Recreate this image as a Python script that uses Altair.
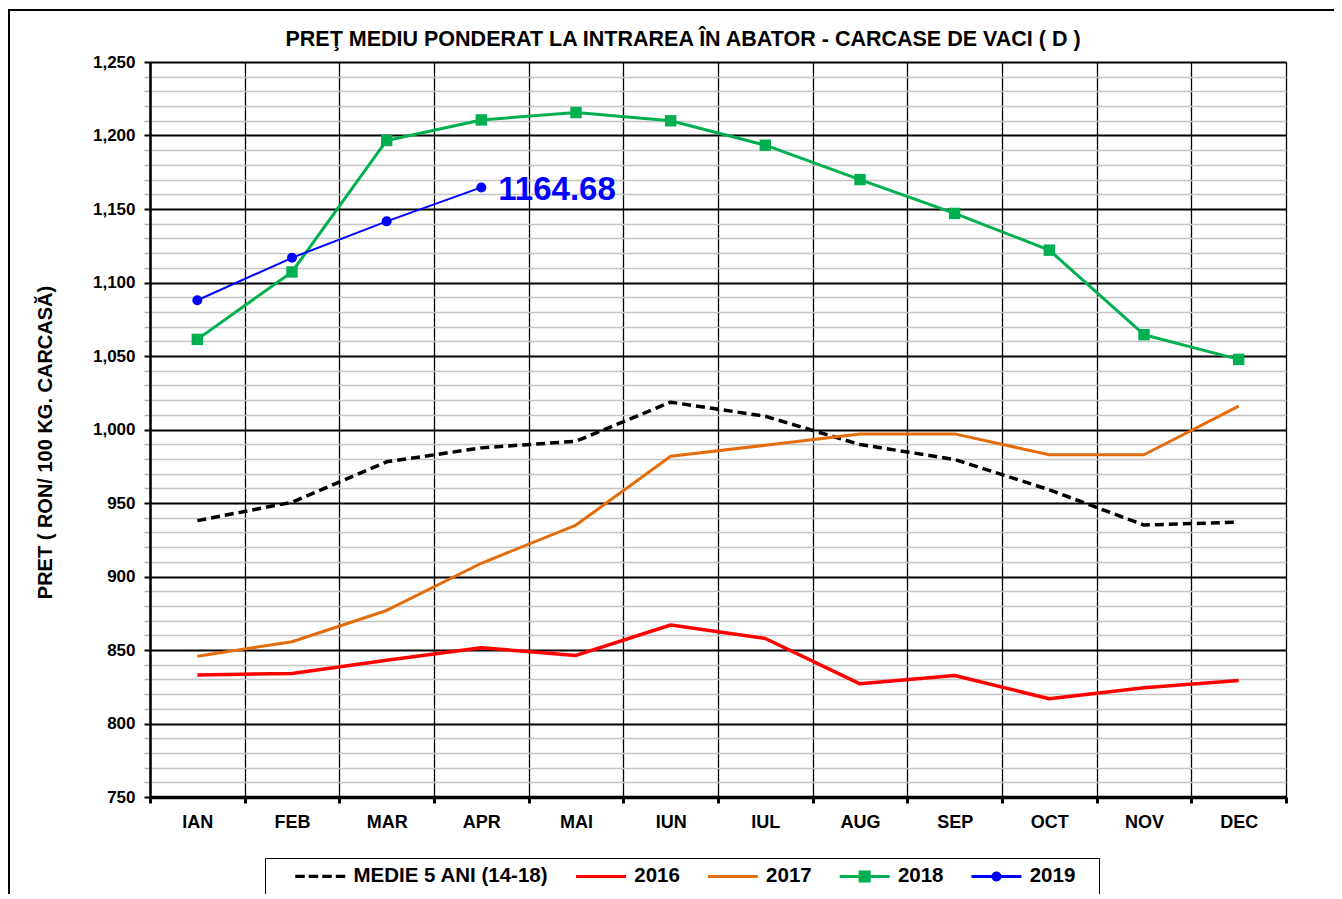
import altair as alt
import pandas as pd

# ---------------- data ----------------
months = ["IAN", "FEB", "MAR", "APR", "MAI", "IUN", "IUL", "AUG", "SEP", "OCT", "NOV", "DEC"]
medie = [938, 950.5, 978, 987.5, 992, 1018.6, 1009, 989.8, 979.6, 959, 935, 937]
y2016 = [833, 834, 843, 851.5, 846.3, 867, 857.8, 827, 832.7, 816.8, 824.3, 829.3]
y2017 = [845.8, 855.6, 876.9, 909, 935, 981.8, 989.3, 997, 997, 982.8, 982.8, 1015.9]
y2018 = [1061.3, 1107.2, 1196.6, 1210.6, 1215.6, 1210, 1193.4, 1170, 1147, 1122, 1064.5, 1047.7]
y2019 = [1087.9, 1116.8, 1141.6, 1164.68]

series_names = ["MEDIE 5 ANI (14-18)", "2016", "2017", "2018", "2019"]
series_values = [medie, y2016, y2017, y2018, y2019]
series_colors = ["#000000", "#ff0000", "#e46c0a", "#00b050", "#0000ff"]

y_ticks = list(range(750, 1251, 10))
x_bounds = [i + 0.5 for i in range(13)]

FONT = "Liberation Sans"
W, H = 1136, 735
STEP = W / 12.0

rows = []
for name, vals in zip(series_names, series_values):
    for i, v in enumerate(vals):
        rows.append({"series": name, "m": i + 1, "month": months[i], "v": v})
df = pd.DataFrame(rows)

months_js = "[" + ",".join("'%s'" % m for m in months) + "]"

x_enc = alt.X(
    "m:Q",
    scale=alt.Scale(domain=[0.5, 12.5], nice=False, zero=False),
    axis=alt.Axis(
        values=x_bounds,
        labelExpr=months_js + "[round(datum.value + 0.5) - 1] || ''",
        labelOffset=STEP / 2,
        labelAngle=0,
        labelFlush=False,
        labelOverlap=False,
        labelFont=FONT,
        labelFontSize=18,
        labelFontWeight="bold",
        labelColor="black",
        labelPadding=10,
        grid=True,
        gridColor="black",
        gridWidth=1.3,
        domainColor="black",
        domainWidth=3.5,
        tickColor="black",
        tickWidth=3,
        tickSize=6,
        title=None,
    ),
)

major = "datum.value % 50 === 0"
y_enc = alt.Y(
    "v:Q",
    scale=alt.Scale(domain=[750, 1250], nice=False, zero=False),
    axis=alt.Axis(
        values=y_ticks,
        labelExpr=major + " ? format(datum.value, ',') : ''",
        labelFont=FONT,
        labelFontSize=17,
        labelFontWeight="bold",
        labelColor="black",
        labelPadding=9,
        labelOverlap=False,
        labelFlush=False,
        grid=True,
        gridColor={"condition": {"test": major, "value": "black"}, "value": "#c4c4c4"},
        gridWidth={"condition": {"test": major, "value": 2}, "value": 1.5},
        tickColor={"condition": {"test": major, "value": "black"}, "value": "#b0b0b0"},
        tickWidth={"condition": {"test": major, "value": 2}, "value": 1.5},
        tickSize=6,
        domainColor="black",
        domainWidth=2.5,
        title="PRET ( RON/ 100 KG. CARCASĂ)",
        titleFont=FONT,
        titleFontSize=20,
        titleFontWeight="bold",
        titleColor="black",
        titleAngle=270,
        titleAlign="center",
        titleBaseline="middle",
        titleX=-105,
        titleY=380,
    ),
)

# decorative outer frame of the original picture
frame = alt.Chart(alt.Data(values=[{"f": 1}])).mark_rect(
    fillOpacity=0, stroke="black", strokeWidth=2
).encode(
    x=alt.value(-141), x2=alt.value(1300), y=alt.value(-52), y2=alt.value(1000)
)

line_layers = []
widths = [3.5, 3.5, 3, 3, 2]
for name, col, w in zip(series_names, series_colors, widths):
    kw = dict(color=col, strokeWidth=w, strokeCap="butt", strokeJoin="round")
    if name.startswith("MEDIE"):
        kw["strokeDash"] = [9, 5]
    line_layers.append(
        alt.Chart(df).transform_filter(alt.datum.series == name).mark_line(**kw).encode(x=x_enc, y=y_enc)
    )

pts2018 = alt.Chart(df).transform_filter(alt.datum.series == "2018").mark_square(
    size=130, color=series_colors[3], opacity=1
).encode(x=x_enc, y=y_enc)

pts2019 = alt.Chart(df).transform_filter(alt.datum.series == "2019").mark_circle(
    size=100, color=series_colors[4], opacity=1
).encode(x=x_enc, y=y_enc)

label2019 = alt.Chart(df).transform_filter(
    (alt.datum.series == "2019") & (alt.datum.m == len(y2019))
).mark_text(
    align="left", baseline="middle", dx=17, dy=3, fontSize=33, fontWeight="bold", font=FONT, color=series_colors[4]
).encode(x=x_enc, y=y_enc, text=alt.Text("v:Q", format=".2f"))

# legend symbols: filled paths, unit = 10 px (symbolSize 400), spanning x in [-1, 4]
line_p = "M-1,-0.15H4V0.15H-1Z"
dash_p = ("M-1,-0.17H-0.05V0.17H-1Z"
          "M0.35,-0.17H1.3V0.17H0.35Z"
          "M1.7,-0.17H2.65V0.17H1.7Z"
          "M3.05,-0.17H4V0.17H3.05Z")
sq_p = line_p + "M0.9,-0.6H2.1V0.6H0.9Z"
ci_p = line_p + "M1,0A0.5,0.5,0,1,1,2,0A0.5,0.5,0,1,1,1,0Z"
legend_shapes = [dash_p, line_p, line_p, sq_p, ci_p]

BLANK = "\u2800"
leg = alt.Legend(
    title=" ",
    titleOrient="left",
    titleFontSize=20,
    titlePadding=22,
    orient="none",
    legendX=115,
    legendY=796,
    direction="horizontal",
    columns=5,
    symbolSize=400,
    symbolStrokeWidth=0,
    labelFont=FONT,
    labelFontSize=20.5,
    labelFontWeight="bold",
    labelColor="black",
    labelOffset=38,
    labelLimit=400,
    labelExpr="datum.label == '2019' ? '2019" + BLANK + "' : datum.label",
    columnPadding=26.8,
    padding=8,
    strokeColor="black",
    fillColor="white",
)

legend_layer = alt.Chart(df).transform_filter("false").mark_point(filled=True, opacity=1).encode(
    color=alt.Color("series:N", scale=alt.Scale(domain=series_names, range=series_colors), legend=leg),
    shape=alt.Shape("series:N", scale=alt.Scale(domain=series_names, range=legend_shapes), legend=leg),
)

chart = alt.layer(
    frame, *line_layers, pts2018, pts2019, label2019, legend_layer
).properties(
    width=W,
    height=H,
    title=alt.TitleParams(
        text="PREŢ MEDIU PONDERAT LA INTRAREA ÎN ABATOR - CARCASE DE VACI ( D )",
        font=FONT,
        fontSize=21.5,
        fontWeight="bold",
        color="black",
        anchor="middle",
        frame="group",
        dx=-35,
        dy=52,
        offset=11,
    ),
    autosize=alt.AutoSizeParams(type="none"),
    padding={"left": 142, "top": 54, "right": 48, "bottom": 97},
).configure_view(
    stroke="black", strokeWidth=2
).configure(background="white")

chart.save("out.html", embed_options={"renderer": "svg", "actions": False})
